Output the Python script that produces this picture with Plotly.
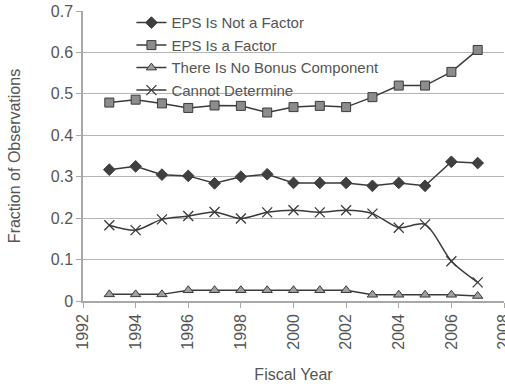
import plotly.graph_objects as go

years = [1993, 1994, 1995, 1996, 1997, 1998, 1999, 2000, 2001, 2002, 2003, 2004, 2005, 2006, 2007]
eps_not_factor = [0.317, 0.325, 0.305, 0.302, 0.284, 0.300, 0.306, 0.285, 0.285, 0.285, 0.278, 0.285, 0.278, 0.336, 0.333]
eps_factor = [0.479, 0.486, 0.477, 0.466, 0.472, 0.471, 0.455, 0.468, 0.471, 0.468, 0.492, 0.520, 0.520, 0.553, 0.606]
no_bonus = [0.016, 0.016, 0.016, 0.026, 0.026, 0.026, 0.026, 0.026, 0.026, 0.026, 0.015, 0.015, 0.015, 0.015, 0.012]
cannot_determine = [0.183, 0.171, 0.197, 0.205, 0.215, 0.199, 0.214, 0.219, 0.214, 0.219, 0.211, 0.177, 0.185, 0.096, 0.045]

names = ["EPS Is Not a Factor", "EPS Is a Factor", "There Is No Bonus Component", "Cannot Determine"]

FONT = "Liberation Sans, Arial, sans-serif"
TXT = "#555555"
LINE = "#3a3a3a"

fig = go.Figure()
fig.add_trace(go.Scatter(x=years, y=eps_not_factor, name=names[0], mode="lines+markers",
                         line=dict(color=LINE, width=1.5),
                         marker=dict(symbol="diamond", size=9, color="#3f3f3f", line=dict(color="#3f3f3f", width=1))))
fig.add_trace(go.Scatter(x=years, y=eps_factor, name=names[1], mode="lines+markers",
                         line=dict(color=LINE, width=1.5),
                         marker=dict(symbol="square", size=9, color="#8c8c8c", line=dict(color="#3a3a3a", width=1))))
fig.add_trace(go.Scatter(x=years, y=no_bonus, name=names[2], mode="lines+markers",
                         line=dict(color=LINE, width=1.5),
                         marker=dict(symbol="triangle-up", size=9, color="#a0a0a0", line=dict(color="#3a3a3a", width=1))))
fig.add_trace(go.Scatter(x=years, y=cannot_determine, name=names[3], mode="lines+markers",
                         line=dict(color=LINE, width=1.5, shape="spline", smoothing=0.8),
                         marker=dict(symbol="x-thin", size=10, color=LINE, line=dict(color="#3a3a3a", width=1.3))))

fig.update_layout(
    width=505, height=386,
    margin=dict(l=83, r=1, t=11, b=85, autoexpand=False),
    paper_bgcolor="white", plot_bgcolor="white",
    font=dict(family=FONT, size=16, color=TXT),
    showlegend=True,
    legend=dict(x=0.115, y=1.016, xanchor="left", yanchor="top",
                bgcolor="rgba(255,255,255,0)", font=dict(size=15, color=TXT),
                tracegroupgap=0, itemwidth=30),
    xaxis=dict(range=[1992, 2008], dtick=2, tick0=1992, tickangle=-90, automargin=False,
               ticklabeloverflow="allow",
               showgrid=False, zeroline=False, showline=True, linecolor="#a8a8a8", linewidth=1.5,
               ticks="outside", ticklen=5, tickcolor="#a8a8a8",
               tickfont=dict(size=16, color=TXT),
               title=dict(text="Fiscal Year", font=dict(size=16, color=TXT), standoff=20)),
    yaxis=dict(range=[0, 0.7], automargin=False, showgrid=True, gridcolor="#b5b5b5", gridwidth=1.2,
               zeroline=False, showline=True, linecolor="#a8a8a8", linewidth=1.5,
               ticks="outside", ticklen=5, tickcolor="#a8a8a8",
               tickfont=dict(size=16, color=TXT),
               tickvals=[0, 0.1, 0.2, 0.3, 0.4, 0.5, 0.6, 0.7],
               ticktext=["0", "0.1", "0.2", "0.3", "0.4", "0.5", "0.6", "0.7"],
               title=dict(text="Fraction of Observations", font=dict(size=16, color=TXT), standoff=26)),
)

fig.write_html("out.html", config={"displayModeBar": False},
               post_script="document.body.style.margin='0';document.body.style.overflow='hidden';")
